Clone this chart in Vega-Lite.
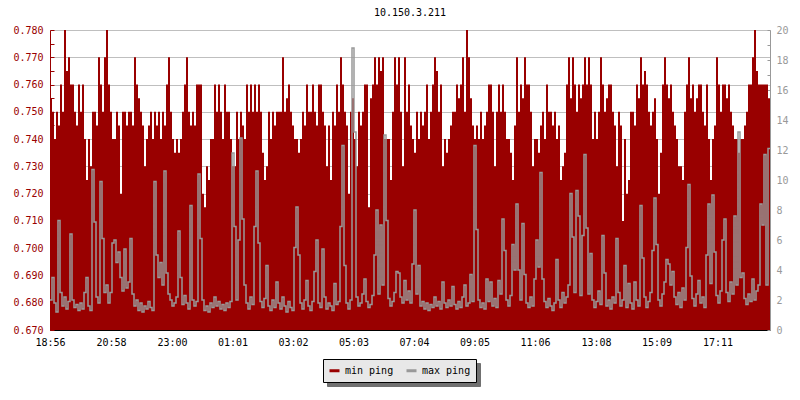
{
"$schema": "https://vega.github.io/schema/vega-lite/v6.json",
"width": 720, "height": 300,
"autosize": "none",
"padding": {"left": 50, "top": 30, "right": 30, "bottom": 70},
"background": "white",
"title": {"text": "10.150.3.211", "font": "DejaVu Sans Mono", "fontSize": 10, "fontWeight": "normal", "color": "black", "offset": 7, "frame": "group", "anchor": "middle"},
"config": {"view": {"stroke": null}, "font": "DejaVu Sans Mono"},
"data": {"values": [
{"t":0,"min":0.755,"max":2.0},{"t":4,"min":0.75,"max":3.5},{"t":8,"min":0.74,"max":1.8},{"t":12,"min":0.75,"max":1.2},{"t":16,"min":0.745,"max":7.3},{"t":20,"min":0.76,"max":2.5},{"t":24,"min":0.75,"max":1.6},{"t":28,"min":0.78,"max":2.2},{"t":32,"min":0.765,"max":1.4},{"t":36,"min":0.77,"max":1.9},
{"t":40,"min":0.76,"max":6.4},{"t":44,"min":0.76,"max":2.0},{"t":48,"min":0.75,"max":1.5},{"t":52,"min":0.745,"max":1.7},{"t":56,"min":0.76,"max":1.3},{"t":60,"min":0.75,"max":1.8},{"t":64,"min":0.76,"max":1.4},{"t":68,"min":0.74,"max":2.5},{"t":72,"min":0.725,"max":3.5},{"t":76,"min":0.74,"max":1.6},
{"t":80,"min":0.73,"max":1.3},{"t":84,"min":0.75,"max":10.7},{"t":88,"min":0.75,"max":7.2},{"t":92,"min":0.745,"max":2.2},{"t":96,"min":0.77,"max":1.8},{"t":100,"min":0.76,"max":9.9},{"t":104,"min":0.75,"max":6.1},{"t":108,"min":0.77,"max":2.5},{"t":112,"min":0.78,"max":3.0},{"t":116,"min":0.76,"max":1.8},
{"t":120,"min":0.75,"max":2.5},{"t":124,"min":0.74,"max":5.8},{"t":128,"min":0.74,"max":6.0},{"t":132,"min":0.75,"max":4.5},{"t":136,"min":0.745,"max":5.2},{"t":140,"min":0.72,"max":3.5},{"t":144,"min":0.75,"max":2.6},{"t":148,"min":0.75,"max":5.4},{"t":152,"min":0.745,"max":2.8},{"t":156,"min":0.75,"max":3.2},
{"t":160,"min":0.75,"max":6.1},{"t":164,"min":0.745,"max":2.4},{"t":168,"min":0.77,"max":1.6},{"t":172,"min":0.76,"max":2.0},{"t":176,"min":0.755,"max":1.3},{"t":180,"min":0.75,"max":1.8},{"t":184,"min":0.745,"max":1.2},{"t":188,"min":0.73,"max":1.6},{"t":192,"min":0.74,"max":1.4},{"t":196,"min":0.745,"max":1.9},
{"t":200,"min":0.75,"max":1.5},{"t":204,"min":0.74,"max":1.3},{"t":208,"min":0.75,"max":9.9},{"t":212,"min":0.745,"max":5.0},{"t":216,"min":0.75,"max":3.5},{"t":220,"min":0.74,"max":4.5},{"t":224,"min":0.75,"max":3.0},{"t":228,"min":0.745,"max":10.6},{"t":232,"min":0.76,"max":3.8},{"t":236,"min":0.77,"max":2.4},
{"t":240,"min":0.75,"max":2.0},{"t":244,"min":0.74,"max":1.6},{"t":248,"min":0.735,"max":1.8},{"t":252,"min":0.74,"max":2.2},{"t":256,"min":0.735,"max":6.6},{"t":260,"min":0.74,"max":3.5},{"t":264,"min":0.75,"max":1.7},{"t":268,"min":0.76,"max":2.3},{"t":272,"min":0.77,"max":1.8},{"t":276,"min":0.75,"max":1.4},
{"t":280,"min":0.745,"max":8.3},{"t":284,"min":0.75,"max":2.0},{"t":288,"min":0.745,"max":1.6},{"t":292,"min":0.76,"max":1.9},{"t":296,"min":0.76,"max":10.4},{"t":300,"min":0.76,"max":6.1},{"t":304,"min":0.72,"max":2.0},{"t":308,"min":0.715,"max":1.3},{"t":312,"min":0.73,"max":1.6},{"t":316,"min":0.725,"max":1.2},
{"t":320,"min":0.74,"max":1.8},{"t":324,"min":0.74,"max":1.5},{"t":328,"min":0.76,"max":2.2},{"t":332,"min":0.75,"max":1.6},{"t":336,"min":0.76,"max":1.9},{"t":340,"min":0.75,"max":1.4},{"t":344,"min":0.74,"max":1.7},{"t":348,"min":0.76,"max":1.3},{"t":352,"min":0.75,"max":1.8},{"t":356,"min":0.75,"max":1.5},
{"t":360,"min":0.74,"max":1.9},{"t":364,"min":0.73,"max":11.8},{"t":368,"min":0.73,"max":6.9},{"t":372,"min":0.75,"max":2.0},{"t":376,"min":0.74,"max":6.0},{"t":380,"min":0.75,"max":12.8},{"t":384,"min":0.745,"max":7.4},{"t":388,"min":0.74,"max":3.0},{"t":392,"min":0.76,"max":1.8},{"t":396,"min":0.75,"max":1.4},
{"t":400,"min":0.76,"max":2.2},{"t":404,"min":0.75,"max":1.7},{"t":408,"min":0.76,"max":6.9},{"t":412,"min":0.75,"max":10.6},{"t":416,"min":0.76,"max":5.8},{"t":420,"min":0.75,"max":1.9},{"t":424,"min":0.735,"max":1.5},{"t":428,"min":0.725,"max":2.1},{"t":432,"min":0.73,"max":4.3},{"t":436,"min":0.75,"max":1.6},
{"t":440,"min":0.74,"max":1.3},{"t":444,"min":0.75,"max":2.0},{"t":448,"min":0.745,"max":1.5},{"t":452,"min":0.75,"max":3.2},{"t":456,"min":0.75,"max":1.8},{"t":460,"min":0.75,"max":1.4},{"t":464,"min":0.77,"max":2.2},{"t":468,"min":0.75,"max":1.6},{"t":472,"min":0.755,"max":1.2},{"t":476,"min":0.76,"max":1.9},
{"t":480,"min":0.75,"max":1.5},{"t":484,"min":0.745,"max":1.3},{"t":488,"min":0.74,"max":5.5},{"t":492,"min":0.74,"max":8.2},{"t":496,"min":0.735,"max":5.0},{"t":500,"min":0.74,"max":1.8},{"t":504,"min":0.75,"max":1.4},{"t":508,"min":0.745,"max":2.0},{"t":512,"min":0.76,"max":3.3},{"t":516,"min":0.75,"max":1.6},
{"t":520,"min":0.75,"max":1.3},{"t":524,"min":0.76,"max":1.9},{"t":528,"min":0.75,"max":3.9},{"t":532,"min":0.745,"max":6.0},{"t":536,"min":0.76,"max":1.8},{"t":540,"min":0.76,"max":1.5},{"t":544,"min":0.75,"max":5.4},{"t":548,"min":0.745,"max":2.2},{"t":552,"min":0.73,"max":1.4},{"t":556,"min":0.745,"max":1.8},
{"t":560,"min":0.725,"max":1.6},{"t":564,"min":0.75,"max":1.3},{"t":568,"min":0.745,"max":3.1},{"t":572,"min":0.76,"max":1.7},{"t":576,"min":0.75,"max":1.9},{"t":580,"min":0.77,"max":6.9},{"t":584,"min":0.76,"max":12.3},{"t":588,"min":0.75,"max":4.3},{"t":592,"min":0.745,"max":1.8},{"t":596,"min":0.72,"max":1.4},
{"t":600,"min":0.75,"max":2.0},{"t":604,"min":0.755,"max":18.8},{"t":608,"min":0.74,"max":13.2},{"t":612,"min":0.73,"max":2.2},{"t":616,"min":0.75,"max":1.6},{"t":620,"min":0.745,"max":1.8},{"t":624,"min":0.75,"max":2.4},{"t":628,"min":0.76,"max":3.4},{"t":632,"min":0.76,"max":1.9},{"t":636,"min":0.715,"max":1.5},
{"t":640,"min":0.755,"max":1.7},{"t":644,"min":0.76,"max":2.3},{"t":648,"min":0.77,"max":5.0},{"t":652,"min":0.76,"max":8.0},{"t":656,"min":0.77,"max":2.4},{"t":660,"min":0.765,"max":7.0},{"t":664,"min":0.77,"max":3.0},{"t":668,"min":0.74,"max":13.0},{"t":672,"min":0.74,"max":7.3},{"t":676,"min":0.74,"max":2.1},
{"t":680,"min":0.725,"max":1.6},{"t":684,"min":0.75,"max":1.9},{"t":688,"min":0.77,"max":2.5},{"t":692,"min":0.76,"max":3.9},{"t":696,"min":0.77,"max":3.8},{"t":700,"min":0.75,"max":2.2},{"t":704,"min":0.73,"max":1.8},{"t":708,"min":0.77,"max":3.3},{"t":712,"min":0.75,"max":2.0},{"t":716,"min":0.76,"max":2.6},
{"t":720,"min":0.745,"max":1.8},{"t":724,"min":0.74,"max":4.4},{"t":728,"min":0.735,"max":8.0},{"t":732,"min":0.75,"max":2.4},{"t":736,"min":0.74,"max":4.3},{"t":740,"min":0.75,"max":1.6},{"t":744,"min":0.745,"max":1.9},{"t":748,"min":0.75,"max":1.4},{"t":752,"min":0.76,"max":1.8},{"t":756,"min":0.74,"max":1.3},
{"t":760,"min":0.75,"max":1.7},{"t":764,"min":0.76,"max":1.5},{"t":768,"min":0.77,"max":2.2},{"t":772,"min":0.765,"max":1.6},{"t":776,"min":0.75,"max":1.9},{"t":780,"min":0.76,"max":1.4},{"t":784,"min":0.73,"max":3.2},{"t":788,"min":0.74,"max":1.8},{"t":792,"min":0.735,"max":1.5},{"t":796,"min":0.74,"max":2.0},
{"t":800,"min":0.745,"max":1.6},{"t":804,"min":0.75,"max":2.9},{"t":808,"min":0.75,"max":1.7},{"t":812,"min":0.76,"max":1.4},{"t":816,"min":0.755,"max":1.9},{"t":820,"min":0.76,"max":1.5},{"t":824,"min":0.77,"max":2.2},{"t":828,"min":0.75,"max":3.0},{"t":832,"min":0.78,"max":1.6},{"t":836,"min":0.77,"max":1.8},
{"t":840,"min":0.755,"max":3.7},{"t":844,"min":0.745,"max":1.9},{"t":848,"min":0.74,"max":12.3},{"t":852,"min":0.745,"max":6.7},{"t":856,"min":0.74,"max":2.0},{"t":860,"min":0.75,"max":1.5},{"t":864,"min":0.74,"max":1.8},{"t":868,"min":0.745,"max":1.4},{"t":872,"min":0.75,"max":3.4},{"t":876,"min":0.76,"max":1.9},
{"t":880,"min":0.76,"max":3.2},{"t":884,"min":0.75,"max":1.6},{"t":888,"min":0.73,"max":2.1},{"t":892,"min":0.75,"max":1.5},{"t":896,"min":0.76,"max":3.3},{"t":900,"min":0.75,"max":2.4},{"t":904,"min":0.76,"max":7.4},{"t":908,"min":0.75,"max":5.3},{"t":912,"min":0.74,"max":2.0},{"t":916,"min":0.74,"max":1.6},
{"t":920,"min":0.735,"max":2.3},{"t":924,"min":0.725,"max":5.7},{"t":928,"min":0.745,"max":4.0},{"t":932,"min":0.77,"max":8.4},{"t":936,"min":0.75,"max":4.0},{"t":940,"min":0.76,"max":2.0},{"t":944,"min":0.755,"max":7.1},{"t":948,"min":0.77,"max":3.7},{"t":952,"min":0.76,"max":1.8},{"t":956,"min":0.76,"max":1.5},
{"t":960,"min":0.75,"max":2.2},{"t":964,"min":0.73,"max":1.6},{"t":968,"min":0.74,"max":3.4},{"t":972,"min":0.74,"max":6.0},{"t":976,"min":0.735,"max":4.2},{"t":980,"min":0.745,"max":10.5},{"t":984,"min":0.75,"max":3.4},{"t":988,"min":0.74,"max":1.9},{"t":992,"min":0.76,"max":1.5},{"t":996,"min":0.75,"max":2.1},
{"t":1000,"min":0.75,"max":1.6},{"t":1004,"min":0.745,"max":1.3},{"t":1008,"min":0.75,"max":1.8},{"t":1012,"min":0.74,"max":4.7},{"t":1016,"min":0.745,"max":2.0},{"t":1020,"min":0.725,"max":1.5},{"t":1024,"min":0.73,"max":2.5},{"t":1028,"min":0.735,"max":1.8},{"t":1032,"min":0.76,"max":2.2},{"t":1036,"min":0.77,"max":3.0},
{"t":1040,"min":0.755,"max":9.1},{"t":1044,"min":0.77,"max":6.2},{"t":1048,"min":0.76,"max":2.5},{"t":1052,"min":0.75,"max":9.3},{"t":1056,"min":0.76,"max":7.6},{"t":1060,"min":0.755,"max":2.3},{"t":1064,"min":0.76,"max":6.3},{"t":1068,"min":0.77,"max":11.7},{"t":1072,"min":0.76,"max":6.8},{"t":1076,"min":0.77,"max":2.4},
{"t":1080,"min":0.76,"max":5.1},{"t":1084,"min":0.74,"max":2.0},{"t":1088,"min":0.75,"max":1.5},{"t":1092,"min":0.74,"max":1.9},{"t":1096,"min":0.75,"max":2.6},{"t":1100,"min":0.77,"max":1.7},{"t":1104,"min":0.76,"max":6.3},{"t":1108,"min":0.75,"max":3.8},{"t":1112,"min":0.755,"max":1.6},{"t":1116,"min":0.76,"max":2.0},
{"t":1120,"min":0.76,"max":1.4},{"t":1124,"min":0.75,"max":2.2},{"t":1128,"min":0.745,"max":1.8},{"t":1132,"min":0.73,"max":6.1},{"t":1136,"min":0.75,"max":2.5},{"t":1140,"min":0.745,"max":1.6},{"t":1144,"min":0.71,"max":2.0},{"t":1148,"min":0.74,"max":4.3},{"t":1152,"min":0.72,"max":1.5},{"t":1156,"min":0.725,"max":3.1},
{"t":1160,"min":0.75,"max":1.8},{"t":1164,"min":0.75,"max":1.4},{"t":1168,"min":0.745,"max":3.2},{"t":1172,"min":0.76,"max":2.0},{"t":1176,"min":0.755,"max":1.6},{"t":1180,"min":0.77,"max":8.3},{"t":1184,"min":0.76,"max":4.8},{"t":1188,"min":0.765,"max":2.2},{"t":1192,"min":0.76,"max":1.5},{"t":1196,"min":0.75,"max":1.9},
{"t":1200,"min":0.745,"max":2.5},{"t":1204,"min":0.75,"max":5.3},{"t":1208,"min":0.755,"max":8.8},{"t":1212,"min":0.74,"max":5.7},{"t":1216,"min":0.72,"max":2.0},{"t":1220,"min":0.735,"max":1.6},{"t":1224,"min":0.76,"max":2.4},{"t":1228,"min":0.77,"max":3.2},{"t":1232,"min":0.76,"max":4.7},{"t":1236,"min":0.755,"max":4.4},
{"t":1240,"min":0.76,"max":3.0},{"t":1244,"min":0.75,"max":3.9},{"t":1248,"min":0.745,"max":2.2},{"t":1252,"min":0.74,"max":1.7},{"t":1256,"min":0.73,"max":2.5},{"t":1260,"min":0.73,"max":1.5},{"t":1264,"min":0.725,"max":2.8},{"t":1268,"min":0.75,"max":2.0},{"t":1272,"min":0.76,"max":5.5},{"t":1276,"min":0.77,"max":9.7},
{"t":1280,"min":0.755,"max":3.6},{"t":1284,"min":0.76,"max":2.1},{"t":1288,"min":0.75,"max":1.6},{"t":1292,"min":0.755,"max":2.4},{"t":1296,"min":0.76,"max":3.3},{"t":1300,"min":0.76,"max":1.8},{"t":1304,"min":0.75,"max":2.2},{"t":1308,"min":0.745,"max":1.5},{"t":1312,"min":0.76,"max":5.0},{"t":1316,"min":0.74,"max":8.4},
{"t":1320,"min":0.725,"max":3.1},{"t":1324,"min":0.74,"max":9.0},{"t":1328,"min":0.745,"max":5.2},{"t":1332,"min":0.77,"max":2.3},{"t":1336,"min":0.76,"max":1.8},{"t":1340,"min":0.75,"max":2.6},{"t":1344,"min":0.76,"max":6.0},{"t":1348,"min":0.76,"max":7.4},{"t":1352,"min":0.755,"max":2.5},{"t":1356,"min":0.76,"max":1.9},
{"t":1360,"min":0.75,"max":3.2},{"t":1364,"min":0.745,"max":2.4},{"t":1368,"min":0.74,"max":7.6},{"t":1372,"min":0.74,"max":3.0},{"t":1376,"min":0.735,"max":13.2},{"t":1380,"min":0.74,"max":3.5},{"t":1384,"min":0.74,"max":3.8},{"t":1388,"min":0.745,"max":2.1},{"t":1392,"min":0.75,"max":1.7},{"t":1396,"min":0.76,"max":2.4},
{"t":1400,"min":0.76,"max":1.9},{"t":1404,"min":0.77,"max":3.4},{"t":1408,"min":0.78,"max":2.0},{"t":1412,"min":0.765,"max":2.6},{"t":1416,"min":0.76,"max":3.0},{"t":1420,"min":0.76,"max":8.4},{"t":1424,"min":0.76,"max":7.0},{"t":1428,"min":0.76,"max":11.7},{"t":1432,"min":0.76,"max":3.0},{"t":1436,"min":0.755,"max":12.1},
{"t":1440,"min":0.755,"max":12.1}
]},
"encoding": {
  "x": {"field": "t", "type": "quantitative", "scale": {"domain": [0, 1440], "nice": false, "zero": false},
    "axis": {"title": null, "grid": false, "values": [0,122,244,365,486,607,728,849,970,1092,1213,1335],
      "labelExpr": "utcFormat((datum.value + 1136) * 60000, '%H:%M')",
      "labelFlush": false, "labelOverlap": false, "labelFont": "DejaVu Sans Mono", "labelFontSize": 10, "labelColor": "black",
      "domainColor": "black", "domainWidth": 1, "tickColor": "black", "tickWidth": 1, "tickSize": -5, "labelPadding": 12}}
},
"layer": [
  {"mark": {"type": "area", "interpolate": "step-after"},
   "encoding": {
     "y": {"field": "min", "type": "quantitative", "scale": {"domain": [0.67, 0.78], "nice": false, "zero": false},
       "axis": {"orient": "left", "title": null, "values": [0.67,0.675,0.68,0.685,0.69,0.695,0.7,0.705,0.71,0.715,0.72,0.725,0.73,0.735,0.74,0.745,0.75,0.755,0.76,0.765,0.77,0.775,0.78],
         "labelExpr": "round(datum.value*1000) % 10 == 0 ? format(datum.value, '.3f') : ''",
         "gridOpacity": {"condition": {"test": "round(datum.value*1000) % 10 == 0", "value": 1}, "value": 0},
         "grid": true, "gridColor": "#bfbfbf", "gridWidth": 1,
         "labelFlush": false, "labelOverlap": false, "labelFont": "DejaVu Sans Mono", "labelFontSize": 10, "labelColor": "#990000",
         "domainColor": "#990000", "tickColor": "#990000", "tickSize": -4, "labelPadding": 11}},
     "y2": {"datum": 0.67},
     "color": {"datum": "min ping", "type": "nominal",
       "scale": {"domain": ["min ping", "max ping"], "range": ["#990000", "#999999"]},
       "legend": {"title": null, "orient": "none", "legendX": 273, "legendY": 329, "direction": "horizontal", "zindex": 2,
         "fillColor": "#e8e8e8", "strokeColor": "black", "padding": 5,
         "symbolType": "stroke", "symbolSize": 100, "symbolStrokeWidth": 3, "labelOffset": 4, "columnPadding": 6,
         "labelFont": "DejaVu Sans Mono", "labelFontSize": 10, "labelColor": "black",
         "encode": {"symbols": {"update": {"stroke": {"scale": "color", "field": "value"}, "strokeWidth": {"value": 3}}}}}}
   }},
  {"mark": {"type": "line", "interpolate": "step-after", "strokeWidth": 1.5},
   "encoding": {
     "y": {"field": "max", "type": "quantitative", "scale": {"domain": [0, 20], "nice": false},
       "axis": {"orient": "right", "title": null, "grid": false, "values": [0,1,2,3,4,5,6,7,8,9,10,11,12,13,14,15,16,17,18,19,20],
         "labelExpr": "datum.value % 2 == 0 ? datum.value : ''",
         "labelFlush": false, "labelOverlap": false, "labelFont": "DejaVu Sans Mono", "labelFontSize": 10, "labelColor": "#999999",
         "domainColor": "#999999", "tickColor": "#999999", "tickSize": -3, "labelPadding": 9}},
     "color": {"datum": "max ping", "type": "nominal"}
   }},
  {"mark": {"type": "point", "opacity": 0},
   "encoding": {
     "shape": {"datum": "min-ping", "type": "nominal",
       "scale": {"domain": ["min-ping", "max-ping"], "range": ["stroke", "stroke"]},
       "legend": {"title": null, "orient": "none", "legendX": 277, "legendY": 333, "direction": "horizontal", "zindex": 1,
         "fillColor": "#707070", "strokeColor": "#707070", "padding": 5,
         "symbolType": "stroke", "symbolSize": 100, "symbolStrokeWidth": 3, "symbolStrokeColor": "#707070", "symbolFillColor": "#707070", "labelOffset": 4, "columnPadding": 6,
         "labelFont": "DejaVu Sans Mono", "labelFontSize": 10, "labelColor": "#707070"}}
   }}
],
"resolve": {"scale": {"y": "independent"}}
}
